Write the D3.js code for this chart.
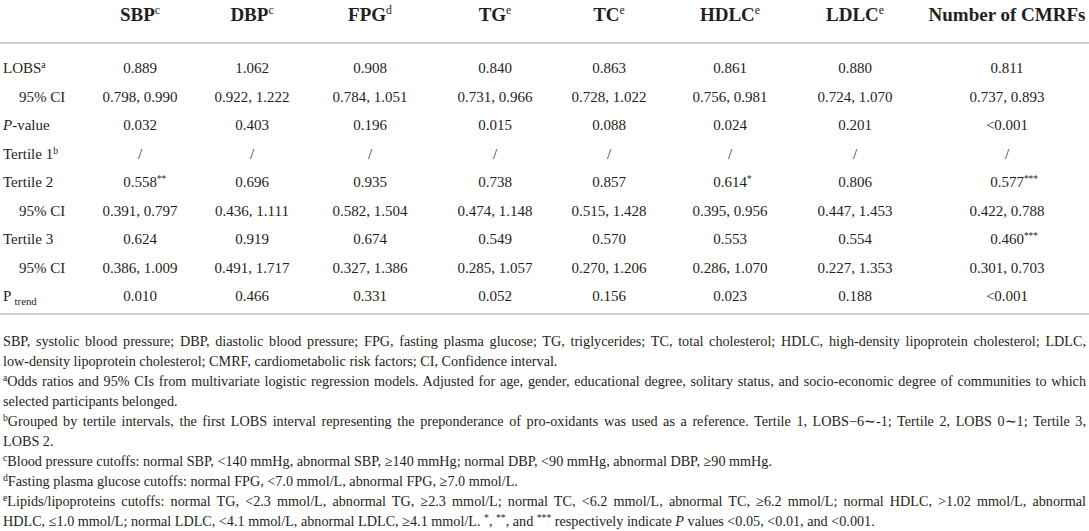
<!DOCTYPE html>
<html>
<head>
<meta charset="utf-8">
<script src="https://cdn.jsdelivr.net/npm/d3@7"></script>
<style>
  html, body { margin: 0; padding: 0; background: #fff; }
  svg { display: block; }
  text { font-family: "Liberation Serif", "Times New Roman", serif; fill: #231f20; }
</style>
</head>
<body>
<svg id="chart" width="1089" height="531"></svg>
<script>
// ---------------- DATA ----------------
const columns   = ["SBP", "DBP", "FPG", "TG", "TC", "HDLC", "LDLC", "Number of CMRFs"];
const columnSup = ["c", "c", "d", "e", "e", "e", "e", ""];

const lobsOR   = [0.889, 1.062, 0.908, 0.840, 0.863, 0.861, 0.880, 0.811];
const lobsLo   = [0.798, 0.922, 0.784, 0.731, 0.728, 0.756, 0.724, 0.737];
const lobsHi   = [0.990, 1.222, 1.051, 0.966, 1.022, 0.981, 1.070, 0.893];
const lobsP    = ["0.032", "0.403", "0.196", "0.015", "0.088", "0.024", "0.201", "<0.001"];

const tertile1 = ["/", "/", "/", "/", "/", "/", "/", "/"];

const t2OR  = [0.558, 0.696, 0.935, 0.738, 0.857, 0.614, 0.806, 0.577];
const t2Sig = ["**", "", "", "", "", "*", "", "***"];
const t2Lo  = [0.391, 0.436, 0.582, 0.474, 0.515, 0.395, 0.447, 0.422];
const t2Hi  = [0.797, 1.111, 1.504, 1.148, 1.428, 0.956, 1.453, 0.788];

const t3OR  = [0.624, 0.919, 0.674, 0.549, 0.570, 0.553, 0.554, 0.460];
const t3Sig = ["", "", "", "", "", "", "", "***"];
const t3Lo  = [0.386, 0.491, 0.327, 0.285, 0.270, 0.286, 0.227, 0.301];
const t3Hi  = [1.009, 1.717, 1.386, 1.057, 1.206, 1.070, 1.353, 0.703];

const pTrend = ["0.010", "0.466", "0.331", "0.052", "0.156", "0.023", "0.188", "<0.001"];

const rowKeys = ["lobs", "lobsCI", "lobsP", "t1", "t2", "t2CI", "t3", "t3CI", "ptrend"];

// footnote lines: [segments], justify flag
const footnotes = [
  { j: true,  s: [["SBP, systolic blood pressure; DBP, diastolic blood pressure; FPG, fasting plasma glucose; TG, triglycerides; TC, total cholesterol; HDLC, high-density lipoprotein cholesterol; LDLC,"]] },
  { j: false, s: [["low-density lipoprotein cholesterol; CMRF, cardiometabolic risk factors; CI, Confidence interval."]] },
  { j: true,  s: [["a", "sup"], ["Odds ratios and 95% CIs from multivariate logistic regression models. Adjusted for age, gender, educational degree, solitary status, and socio-economic degree of communities to which"]] },
  { j: false, s: [["selected participants belonged."]] },
  { j: true,  s: [["b", "sup"], ["Grouped by tertile intervals, the first LOBS interval representing the preponderance of pro-oxidants was used as a reference. Tertile 1, LOBS\u22126\u223c-1; Tertile 2, LOBS 0\u223c1; Tertile 3,"]] },
  { j: false, s: [["LOBS 2."]] },
  { j: false, s: [["c", "sup"], ["Blood pressure cutoffs: normal SBP, <140 mmHg, abnormal SBP, \u2265140 mmHg; normal DBP, <90 mmHg, abnormal DBP, \u226590 mmHg."]] },
  { j: false, s: [["d", "sup"], ["Fasting plasma glucose cutoffs: normal FPG, <7.0 mmol/L, abnormal FPG, \u22657.0 mmol/L."]] },
  { j: true,  s: [["e", "sup"], ["Lipids/lipoproteins cutoffs: normal TG, <2.3 mmol/L, abnormal TG, \u22652.3 mmol/L; normal TC, <6.2 mmol/L, abnormal TC, \u22656.2 mmol/L; normal HDLC, >1.02 mmol/L, abnormal"]] },
  { j: false, s: [["HDLC, \u22641.0 mmol/L; normal LDLC, <4.1 mmol/L, abnormal LDLC, \u22654.1 mmol/L. "], ["*", "sup"], [", "], ["**", "sup"], [", and "], ["***", "sup"], [" respectively indicate "], ["P", "it"], [" values <0.05, <0.01, and <0.001."]] }
];

// ---------------- LAYOUT ----------------
const W = 1089, H = 531;
const colCenters = [140, 252, 370, 495, 609, 730, 855, 1007];
const bodySize = 15, headSize = 19, noteSize = 14.2;
const fmt = d3.format(".3f");

const svg = d3.select("#chart");

const x = d3.scaleOrdinal().domain(columns).range(colCenters);
const y = d3.scalePoint().domain(rowKeys).range([68, 296]);

// rules
svg.append("g").selectAll("line").data([43, 314]).join("line")
  .attr("x1", 0).attr("x2", W).attr("y1", d => d).attr("y2", d => d)
  .attr("stroke", "#cfcfcf").attr("stroke-width", 2);

// header
const head = svg.append("g").selectAll("text").data(columns).join("text")
  .attr("x", d => x(d)).attr("y", 21)
  .attr("text-anchor", "middle")
  .attr("font-weight", "bold").attr("font-size", headSize);
head.append("tspan").text(d => d);
head.append("tspan").attr("font-size", headSize * 0.62).attr("dy", -7)
  .attr("font-weight", "normal")
  .text((d, i) => columnSup[i]);

// row labels
const labels = svg.append("g").attr("font-size", bodySize);
function rowLabel(key, xpos, parts) {
  const t = labels.append("text").attr("x", xpos).attr("y", y(key)).attr("dy", "0.35em").attr("font-size", bodySize);
  parts.forEach(p => {
    const ts = t.append("tspan").text(p[0]);
    if (p[1] === "sup") ts.attr("font-size", bodySize * 0.65).attr("dy", -5);
    if (p[1] === "sub") ts.attr("font-size", bodySize * 0.72).attr("dy", 4);
    if (p[1] === "it") ts.attr("font-style", "italic");
  });
}
rowLabel("lobs", 3, [["LOBS"], ["a", "sup"]]);
rowLabel("lobsCI", 19, [["95% CI"]]);
rowLabel("lobsP", 3, [["P", "it"], ["-value"]]);
rowLabel("t1", 3, [["Tertile 1"], ["b", "sup"]]);
rowLabel("t2", 3, [["Tertile 2"]]);
rowLabel("t2CI", 19, [["95% CI"]]);
rowLabel("t3", 3, [["Tertile 3"]]);
rowLabel("t3CI", 19, [["95% CI"]]);
rowLabel("ptrend", 3, [["P "], ["trend", "sub"]]);

// cell values
const cellRows = [
  { key: "lobs",   v: lobsOR.map(fmt),                              sig: null },
  { key: "lobsCI", v: lobsLo.map((d, i) => fmt(d) + ", " + fmt(lobsHi[i])), sig: null },
  { key: "lobsP",  v: lobsP,                                         sig: null },
  { key: "t1",     v: tertile1,                                      sig: null },
  { key: "t2",     v: t2OR.map(fmt),                                 sig: t2Sig },
  { key: "t2CI",   v: t2Lo.map((d, i) => fmt(d) + ", " + fmt(t2Hi[i])), sig: null },
  { key: "t3",     v: t3OR.map(fmt),                                 sig: t3Sig },
  { key: "t3CI",   v: t3Lo.map((d, i) => fmt(d) + ", " + fmt(t3Hi[i])), sig: null },
  { key: "ptrend", v: pTrend,                                        sig: null }
];

const cells = svg.append("g");
cellRows.forEach(r => {
  r.v.forEach((val, i) => {
    const sig = r.sig ? r.sig[i] : "";
    const t = cells.append("text")
      .attr("y", y(r.key)).attr("dy", "0.35em")
      .attr("font-size", bodySize);
    t.append("tspan").text(val);
    if (sig) t.append("tspan").attr("font-size", bodySize * 0.62).attr("dy", -5).text(sig);
    // center the main value (superscript hangs to the right)
    const main = t.select("tspan").node().getComputedTextLength();
    t.attr("x", x(columns[i]) - main / 2);
  });
});

// footnotes
const noteG = svg.append("g").attr("font-size", noteSize);
const noteTop = 341, noteStep = 20, noteLeft = 3, noteRight = 1086;
footnotes.forEach((line, li) => {
  const t = noteG.append("text")
    .attr("x", noteLeft).attr("y", noteTop + li * noteStep).attr("dy", "0.35em")
    .attr("font-size", noteSize);
  line.s.forEach(p => {
    const ts = t.append("tspan").text(p[0]);
    if (p[1] === "sup") ts.attr("font-size", noteSize * 0.68).attr("baseline-shift", "super");
    if (p[1] === "it") ts.attr("font-style", "italic");
  });
  if (line.j) {
    const natural = t.node().getComputedTextLength();
    const txt = line.s.map(p => p[0]).join("");
    const spaces = (txt.match(/ /g) || []).length;
    if (spaces > 0) t.attr("word-spacing", (noteRight - noteLeft - natural) / spaces);
  }
});
</script>
</body>
</html>
